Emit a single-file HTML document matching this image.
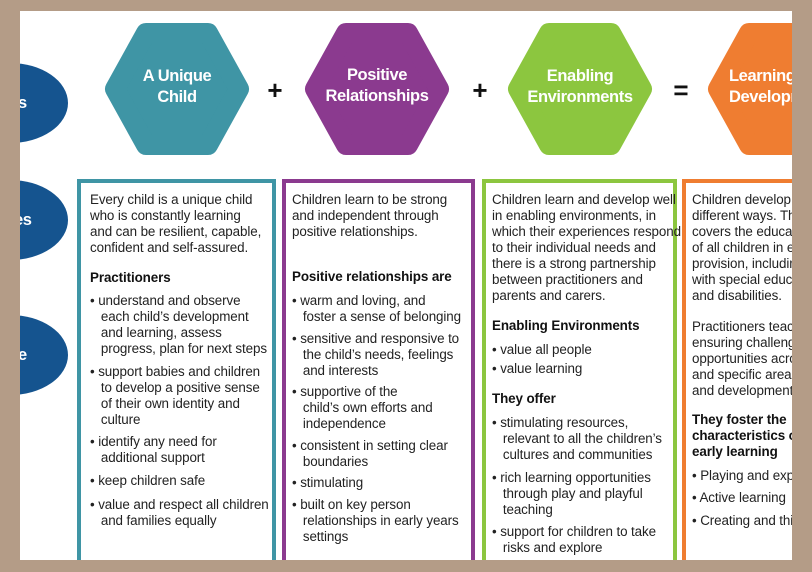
<!DOCTYPE html>
<html><head><meta charset="utf-8"><style>
body{margin:0;width:812px;height:572px;background:#b49c87;position:relative;overflow:hidden;font-family:"Liberation Sans",Arial,sans-serif}
.w{position:absolute;left:20px;top:11px;width:772px;height:549px;background:#fff;overflow:hidden}
.l{position:absolute;font-size:13.4px;line-height:16px;color:#222;white-space:nowrap;letter-spacing:-0.1px}
.b{font-weight:bold;font-size:13.4px;color:#111}
.box{position:absolute;top:168px;height:400px;border:4px solid;box-sizing:border-box}
</style></head><body>
<div class="w">
<svg width="772" height="549" style="position:absolute;left:0;top:0">
<ellipse cx="-10" cy="92" rx="58" ry="40" fill="#15548f"/>
<ellipse cx="-10" cy="209" rx="58" ry="40" fill="#15548f"/>
<ellipse cx="-10" cy="344" rx="58" ry="40" fill="#15548f"/>
<g stroke-linejoin="round" stroke-width="20">
<polygon points="95,78 126,22 188,22 219,78 188,134 126,134" fill="#3f95a5" stroke="#3f95a5"/>
<polygon points="295,78 326,22 388,22 419,78 388,134 326,134" fill="#8b3a8f" stroke="#8b3a8f"/>
<polygon points="498,78 529,22 591,22 622,78 591,134 529,134" fill="#8cc63f" stroke="#8cc63f"/>
<polygon points="698,78 729,22 791,22 822,78 791,134 729,134" fill="#ef7d31" stroke="#ef7d31"/>
</g>
<g font-family="Liberation Sans,Arial,sans-serif" font-weight="bold" fill="#fff" font-size="16.5" text-anchor="middle" letter-spacing="-0.4">
<text x="157" y="70">A Unique</text><text x="157" y="91">Child</text>
<text x="357" y="69">Positive</text><text x="357" y="90">Relationships</text>
<text x="560" y="70">Enabling</text><text x="560" y="91">Environments</text>
<text x="709" y="70" text-anchor="start">Learning</text><text x="709" y="91" text-anchor="start">Developm</text>
<text x="-2" y="97" text-anchor="start">s</text>
<text x="-6" y="214" text-anchor="start">es</text>
<text x="-2" y="349" text-anchor="start">e</text>
</g>
<g font-family="Liberation Sans,Arial,sans-serif" font-weight="bold" fill="#111" font-size="26" text-anchor="middle">
<text x="255" y="88">+</text><text x="460" y="88">+</text><text x="661" y="88">=</text>
</g>
</svg>
<div class="box" style="left:57px;width:199px;border-color:#3f95a5"></div>
<div class="box" style="left:262px;width:193px;border-color:#8b3a8f"></div>
<div class="box" style="left:462px;width:195px;border-color:#8cc63f"></div>
<div class="box" style="left:662px;width:140px;border-color:#ef7d31"></div>

<div class="l" style="left:70px;top:181px">Every child is a unique child<br>who is constantly learning<br>and can be resilient, capable,<br>confident and self-assured.</div>
<div class="l b" style="left:70px;top:259px">Practitioners</div>
<div class="l" style="left:70px;top:282px">• understand and observe<br>&nbsp;&nbsp; each child’s development<br>&nbsp;&nbsp; and learning, assess<br>&nbsp;&nbsp; progress, plan for next steps</div>
<div class="l" style="left:70px;top:353px">• support babies and children<br>&nbsp;&nbsp; to develop a positive sense<br>&nbsp;&nbsp; of their own identity and<br>&nbsp;&nbsp; culture</div>
<div class="l" style="left:70px;top:423px">• identify any need for<br>&nbsp;&nbsp; additional support</div>
<div class="l" style="left:70px;top:462px">• keep children safe</div>
<div class="l" style="left:70px;top:486px">• value and respect all children<br>&nbsp;&nbsp; and families equally</div>

<div class="l" style="left:272px;top:181px">Children learn to be strong<br>and independent through<br>positive relationships.</div>
<div class="l b" style="left:272px;top:258px">Positive relationships are</div>
<div class="l" style="left:272px;top:282px">• warm and loving, and<br>&nbsp;&nbsp; foster a sense of belonging</div>
<div class="l" style="left:272px;top:320px">• sensitive and responsive to<br>&nbsp;&nbsp; the child’s needs, feelings<br>&nbsp;&nbsp; and interests</div>
<div class="l" style="left:272px;top:373px">• supportive of the<br>&nbsp;&nbsp; child’s own efforts and<br>&nbsp;&nbsp; independence</div>
<div class="l" style="left:272px;top:427px">• consistent in setting clear<br>&nbsp;&nbsp; boundaries</div>
<div class="l" style="left:272px;top:464px">• stimulating</div>
<div class="l" style="left:272px;top:486px">• built on key person<br>&nbsp;&nbsp; relationships in early years<br>&nbsp;&nbsp; settings</div>

<div class="l" style="left:472px;top:181px">Children learn and develop well<br>in enabling environments, in<br>which their experiences respond<br>to their individual needs and<br>there is a strong partnership<br>between practitioners and<br>parents and carers.</div>
<div class="l b" style="left:472px;top:307px">Enabling Environments</div>
<div class="l" style="left:472px;top:331px">• value all people</div>
<div class="l" style="left:472px;top:350px">• value learning</div>
<div class="l b" style="left:472px;top:380px">They offer</div>
<div class="l" style="left:472px;top:404px">• stimulating resources,<br>&nbsp;&nbsp; relevant to all the children’s<br>&nbsp;&nbsp; cultures and communities</div>
<div class="l" style="left:472px;top:459px">• rich learning opportunities<br>&nbsp;&nbsp; through play and playful<br>&nbsp;&nbsp; teaching</div>
<div class="l" style="left:472px;top:513px">• support for children to take<br>&nbsp;&nbsp; risks and explore</div>

<div class="l" style="left:672px;top:181px">Children develop and learn in<br>different ways. The framework<br>covers the education and care<br>of all children in early years<br>provision, including children<br>with special educational needs<br>and disabilities.</div>
<div class="l" style="left:672px;top:308px">Practitioners teach children by<br>ensuring challenging, playful<br>opportunities across the prime<br>and specific areas of learning<br>and development.</div>
<div class="l b" style="left:672px;top:401px">They foster the<br>characteristics of effective<br>early learning</div>
<div class="l" style="left:672px;top:457px">• Playing and exploring</div>
<div class="l" style="left:672px;top:479px">• Active learning</div>
<div class="l" style="left:672px;top:502px">• Creating and thinking critically</div>
</div>
</body></html>
